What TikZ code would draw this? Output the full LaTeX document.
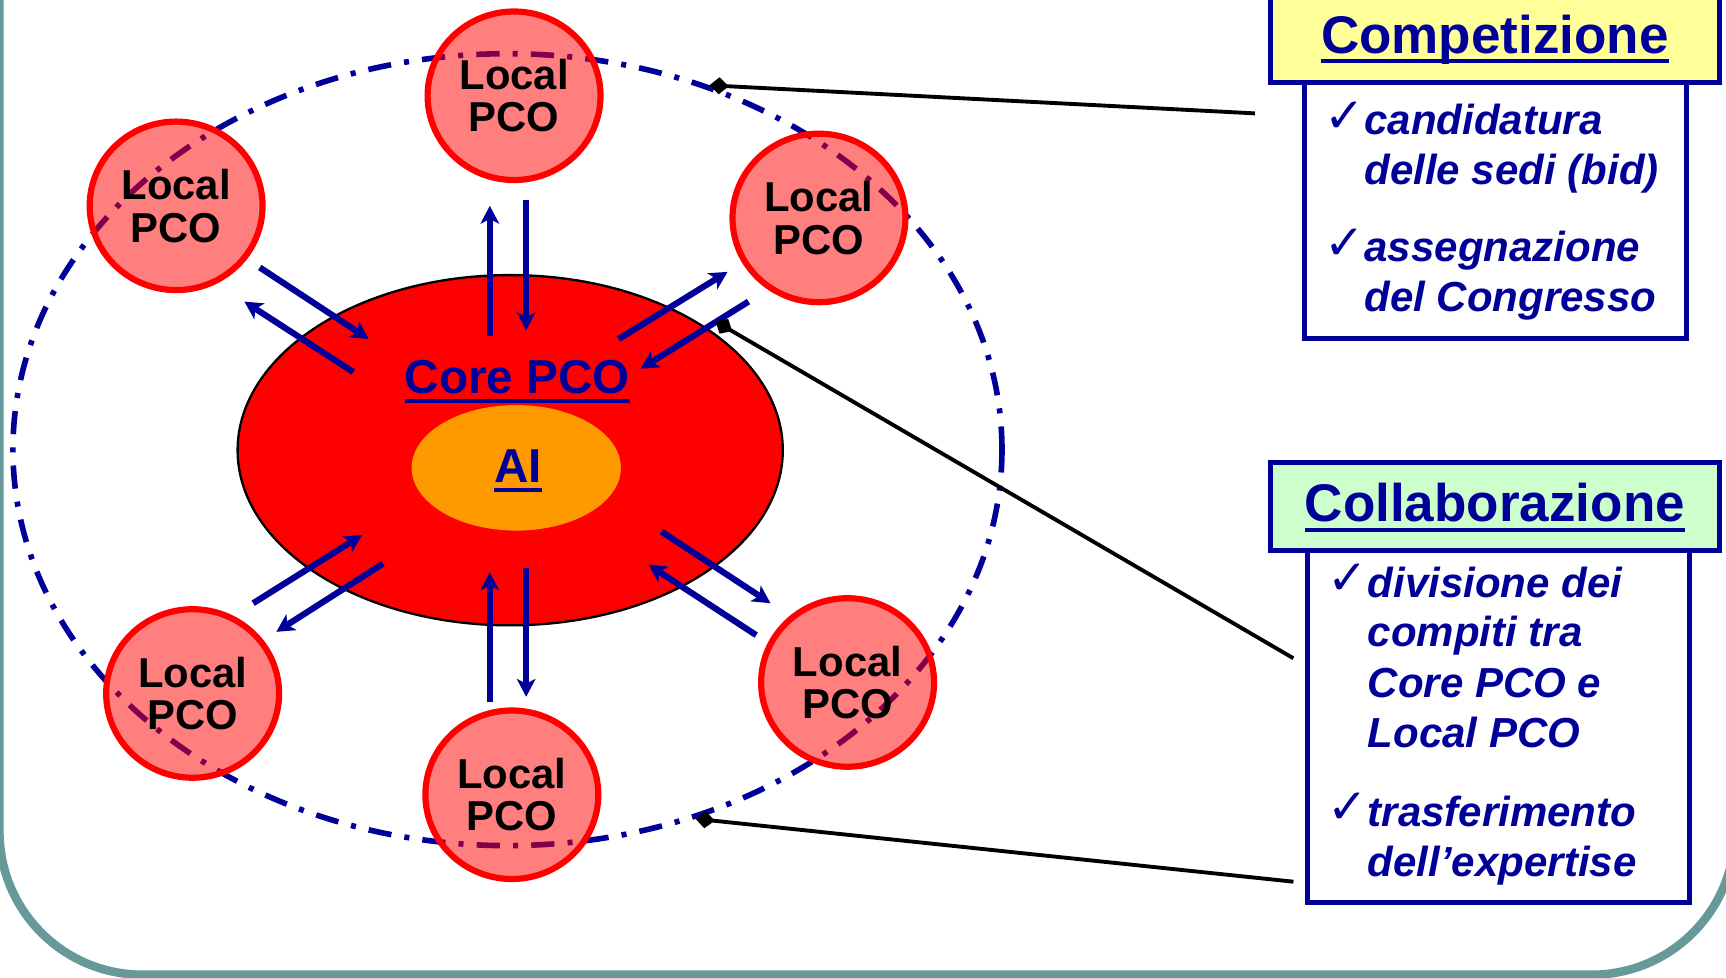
\documentclass[tikz,border=0pt]{standalone}
\usepackage{fontspec}
\setmainfont{Liberation Sans}
\newfontfamily\checkfont{DejaVu Sans}
\usetikzlibrary{shapes.geometric,arrows.meta}
\definecolor{mynavy}{RGB}{0,0,153}
\definecolor{frameteal}{RGB}{102,153,153}
\definecolor{compyellow}{RGB}{255,255,153}
\definecolor{collgreen}{RGB}{204,255,204}
\definecolor{aiorange}{RGB}{255,153,0}
\newcommand{\ulx}[1]{\setbox0\hbox{#1}\rlap{\rule[-0.19em]{\wd0}{0.075em}}\box0}
\begin{document}
\begin{tikzpicture}[x=0.01cm,y=-0.01cm,
  pco/.style={ellipse, draw=red, line width=1.6pt, fill=red, fill opacity=0.5, draw opacity=1, text opacity=1,
    minimum width=1.57cm, minimum height=1.53cm, inner sep=0pt, align=center,
    font={\fontsize{10.8pt}{11pt}\selectfont\bfseries}, text=black},
  arr/.style={draw=mynavy, line width=1.6pt, -{Stealth[length=4.6pt, width=4.8pt, inset=1.2pt]}},
  conn/.style={draw=black, line width=1pt, -{Diamond[length=5pt, width=4.4pt]}},
  bigtxt/.style={anchor=base, text=mynavy, inner sep=0pt, font={\fontsize{12.3pt}{14pt}\selectfont\bfseries}},
  headtxt/.style={anchor=base, text=mynavy, inner sep=0pt, font={\fontsize{13.7pt}{16pt}\selectfont\bfseries}},
  listline/.style={anchor=base west, text=mynavy, inner sep=0pt, font={\fontsize{10.85pt}{13pt}\selectfont\bfseries\itshape}},
  checkmk/.style={anchor=base west, text=mynavy, inner sep=0pt, font={\checkfont\fontsize{12.5pt}{14pt}\selectfont}},
  boxframe/.style={draw=mynavy, line width=1.3pt, outer sep=0pt, inner sep=0pt}]
\useasboundingbox (0,0) rectangle (1568,888);
\clip (0,0) rectangle (1568,888);
% frame
\draw[frameteal, line width=2.2pt, rounded corners=1.3cm] (-0.5,-300) rectangle (1576,885.5);
% outer ring
\node[ellipse, draw=mynavy, line width=1.45pt, dash pattern=on 6pt off 3.4pt on 1.3pt off 3.4pt,
  minimum width=8.98cm, minimum height=7.19cm, inner sep=0pt] (ring) at (461,408.5) {};
% core
\node[ellipse, fill=red, draw=black, line width=0.6pt, minimum width=4.95cm, minimum height=3.18cm, inner sep=0pt] (core) at (463.5,409) {};
\node[ellipse, fill=aiorange, minimum width=1.9cm, minimum height=1.14cm, inner sep=0pt] (ai) at (469,425) {};
\node[bigtxt] (coretxt) at (470,357.5) {\ulx{Core PCO}};
\node[bigtxt] (aitxt) at (470.5,438.5) {\ulx{AI}};
% arrows
\foreach \n/\ax/\ay/\bx/\by in {t1/445/305/445/187, t2/478/182/478/300,
  ul1/236/243/335/308, ul2/321/338/222/274,
  ur1/562/308/661/247, ur2/680/274/582/335,
  ll1/230/548/329/486, ll2/348/512/251/574,
  b1/445/638/445/520, b2/478/516/478/633,
  lr1/601/483/700/548, lr2/687/577/589/513}{
  \coordinate (\n-a) at (\ax,\ay);
  \coordinate (\n-b) at (\bx,\by);
  \draw[arr] (\n-a) -- (\n-b);
}
% local PCO
\node[pco] (p1) at (467,87) {Local\\PCO};
\node[pco] (p2) at (160,187) {Local\\PCO};
\node[pco] (p3) at (744,198) {Local\\PCO};
\node[pco] (p4) at (175,630) {Local\\PCO};
\node[pco] (p5) at (465,722) {Local\\PCO};
\node[pco] (p6) at (770,620) {Local\\PCO};
% Competizione
\node[boxframe, fill=white, anchor=north west, minimum width=3.47cm, minimum height=2.32cm] (complist) at (1185,75) {};
\node[boxframe, fill=compyellow, anchor=south west, minimum width=4.075cm, minimum height=0.85cm] (comphead) at (1154.5,75) {};
\node[headtxt] (comptxt) at (1358,48.5) {\ulx{Competizione}};
\node[checkmk] (ck1) at (1203,120) {✓};
\node[listline] (l1) at (1239,122.6) {candidatura};
\node[listline] (l2) at (1239,168) {delle sedi (bid)};
\node[checkmk] (ck2) at (1203,235.5) {✓};
\node[listline] (l3) at (1239,238) {assegnazione};
\node[listline] (l4) at (1239,283) {del Congresso};
% Collaborazione
\node[boxframe, fill=white, anchor=north west, minimum width=3.475cm, minimum height=3.2cm] (colllist) at (1187.5,500) {};
\node[boxframe, fill=collgreen, anchor=north west, minimum width=4.075cm, minimum height=0.8cm] (collhead) at (1154.5,420) {};
\node[headtxt] (colltxt) at (1358,474) {\ulx{Collaborazione}};
\node[checkmk] (ck3) at (1205,540) {✓};
\node[listline] (m1) at (1242,542.4) {divisione dei};
\node[listline] (m2) at (1242,587.6) {compiti tra};
\node[listline] (m3) at (1242,634) {Core PCO e};
\node[listline] (m4) at (1242,679.5) {Local PCO};
\node[checkmk] (ck4) at (1205,748.5) {✓};
\node[listline] (m5) at (1242,751) {trasferimento};
\node[listline] (m6) at (1242,796.7) {dell’expertise};
% connectors
\coordinate (c1) at (1140,103);
\coordinate (c2) at (1175,598);
\coordinate (c3) at (1175,801);
\coordinate (cd) at (650,292);
\draw[conn] (c1) -- (ring.61);
\draw[conn] (c2) -- (cd);
\draw[conn] (c3) -- (ring.-63);
\end{tikzpicture}
\end{document}
